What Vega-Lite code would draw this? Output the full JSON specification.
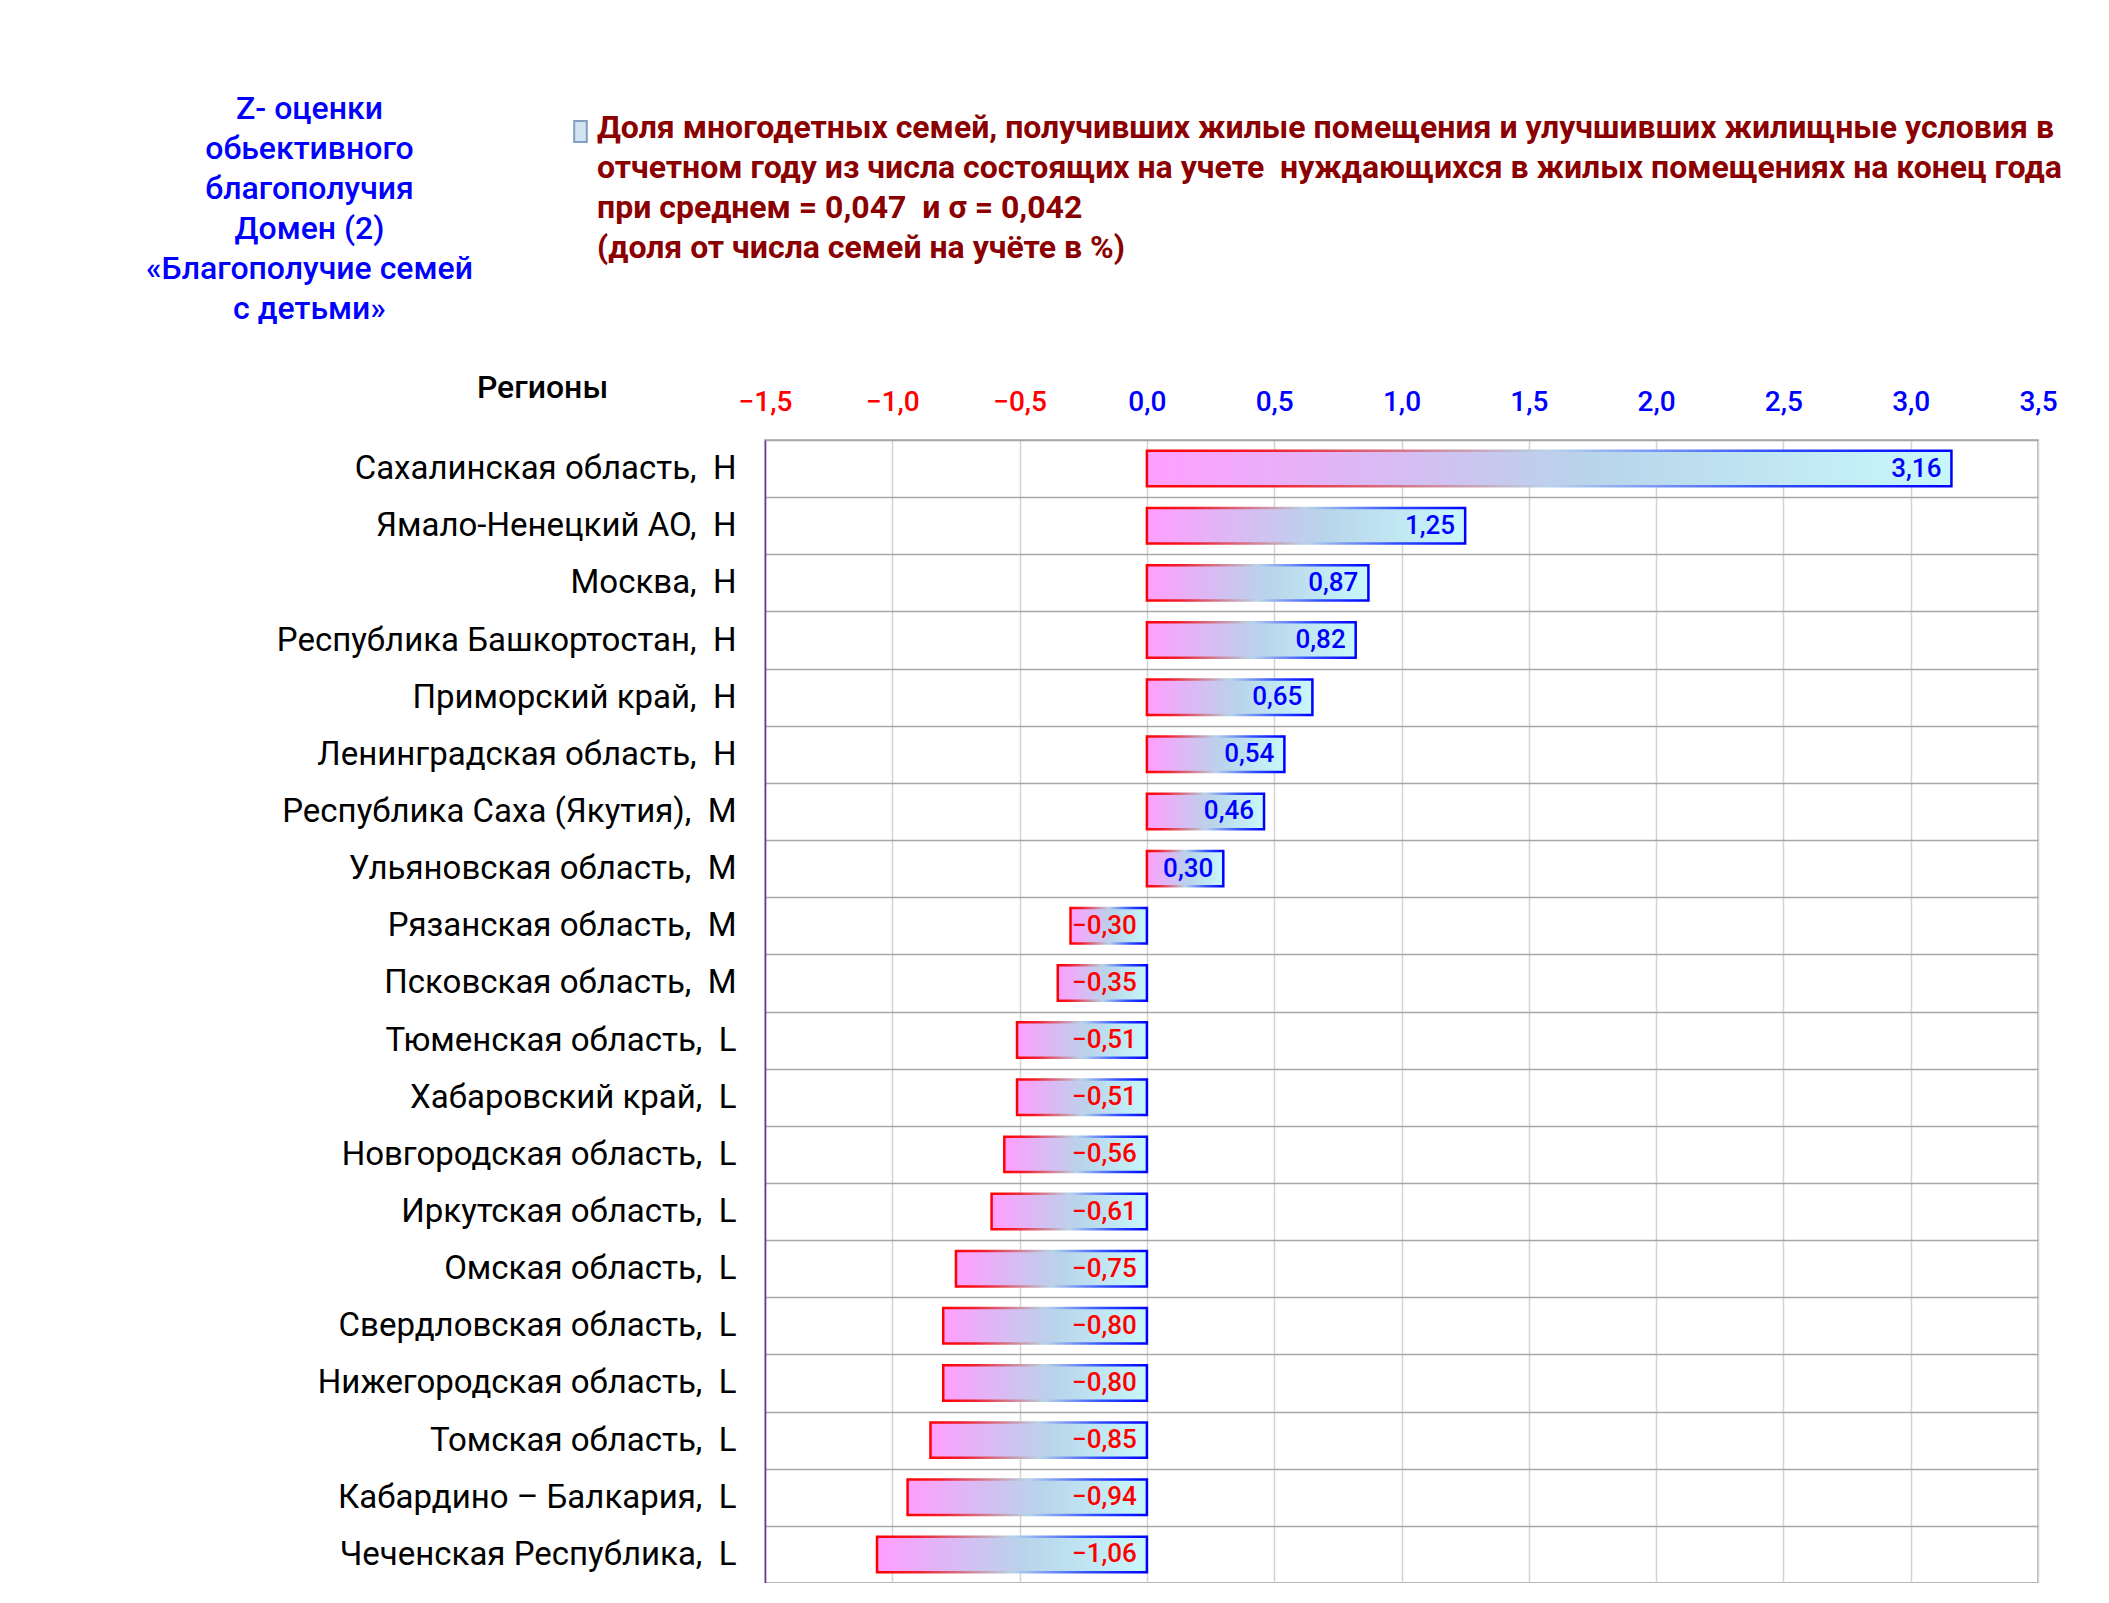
{
  "$schema": "https://vega.github.io/schema/vega-lite/v6.json",
  "autosize": "none",
  "padding": {"left": 765, "top": 440, "right": 71, "bottom": 0},
  "width": 1273,
  "height": 1143,
  "background": "white",
  "config": {
    "locale": {"number": {"decimal": ",", "thousands": " ", "grouping": [3], "currency": ["", ""]}},
    "view": {"stroke": "#a6a6a6", "strokeWidth": 1.5},
    "font": "Roboto"
  },
  "title": {
    "text": [
      "Доля многодетных семей, получивших жилые помещения и улучшивших жилищные условия в",
      "отчетном году из числа состоящих на учете \u00a0нуждающихся в жилых помещениях на конец года",
      "при среднем = 0,047 \u00a0и σ = 0,042",
      "(доля от числа семей на учёте в %)"
    ],
    "anchor": "start",
    "frame": "group",
    "orient": "top",
    "baseline": "top",
    "dx": -168,
    "offset": -173,
    "color": "#8B0000",
    "font": "Roboto",
    "fontSize": 32,
    "fontWeight": "bold",
    "lineHeight": 40
  },
  "data": {
    "values": [
      {"region": "Сахалинская область, \u00a0H", "value": 3.16},
      {"region": "Ямало-Ненецкий АО, \u00a0H", "value": 1.25},
      {"region": "Москва, \u00a0H", "value": 0.87},
      {"region": "Республика Башкортостан, \u00a0H", "value": 0.82},
      {"region": "Приморский край, \u00a0H", "value": 0.65},
      {"region": "Ленинградская область, \u00a0H", "value": 0.54},
      {"region": "Республика Саха (Якутия), \u00a0M", "value": 0.46},
      {"region": "Ульяновская область, \u00a0M", "value": 0.30},
      {"region": "Рязанская область, \u00a0M", "value": -0.30},
      {"region": "Псковская область, \u00a0M", "value": -0.35},
      {"region": "Тюменская область, \u00a0L", "value": -0.51},
      {"region": "Хабаровский край, \u00a0L", "value": -0.51},
      {"region": "Новгородская область, \u00a0L", "value": -0.56},
      {"region": "Иркутская область, \u00a0L", "value": -0.61},
      {"region": "Омская область, \u00a0L", "value": -0.75},
      {"region": "Свердловская область, \u00a0L", "value": -0.80},
      {"region": "Нижегородская область, \u00a0L", "value": -0.80},
      {"region": "Томская область, \u00a0L", "value": -0.85},
      {"region": "Кабардино – Балкария, \u00a0L", "value": -0.94},
      {"region": "Чеченская Республика, \u00a0L", "value": -1.06}
    ]
  },
  "encoding": {
    "y": {
      "field": "region",
      "type": "nominal",
      "sort": null,
      "scale": {"paddingInner": 0, "paddingOuter": 0},
      "axis": {
        "title": ["Z- оценки", "обьективного", "благополучия", "Домен (2)", "«Благополучие семей", "с детьми»"],
        "titleX": -456,
        "titleY": -347,
        "titleAngle": 0,
        "titleAlign": "center",
        "titleBaseline": "top",
        "titleColor": "blue",
        "titleFont": "Roboto",
        "titleFontSize": 32,
        "titleFontWeight": 500,
        "titleLineHeight": 40,
        "labelFont": "Roboto",
        "labelFontSize": 33,
        "labelColor": "black",
        "labelPadding": 29,
        "labelLimit": 0,
        "ticks": false,
        "tickBand": "extent",
        "domainColor": "#7030a0",
        "domainWidth": 1.5,
        "grid": true,
        "gridColor": "#a6a6a6",
        "gridWidth": 1.5
      }
    }
  },
  "layer": [
    {
      "mark": {
        "type": "bar",
        "height": {"band": 0.62},
        "strokeWidth": 2.5,
        "fill": {
          "gradient": "linear", "x1": 0, "y1": 0, "x2": 1, "y2": 0,
          "stops": [
            {"offset": 0, "color": "#ff9eff"},
            {"offset": 0.55, "color": "#b8d4ea"},
            {"offset": 1, "color": "#c8f8fb"}
          ]
        },
        "stroke": {
          "gradient": "linear", "x1": 0, "y1": 0, "x2": 1, "y2": 0,
          "stops": [
            {"offset": 0, "color": "#ff0000"},
            {"offset": 0.15, "color": "#f02030"},
            {"offset": 0.5, "color": "#b8d4ea"},
            {"offset": 0.78, "color": "#3050ff"},
            {"offset": 1, "color": "#0000ff"}
          ]
        }
      },
      "encoding": {
        "x": {
          "field": "value",
          "type": "quantitative",
          "scale": {"domain": [-1.5, 3.5], "nice": false},
          "axis": {
            "orient": "top",
            "values": [-1.5, -1, -0.5, 0, 0.5, 1, 1.5, 2, 2.5, 3, 3.5],
            "format": ".1f",
            "labelFont": "Roboto",
            "labelFontSize": 28,
            "labelFontWeight": 500,
            "labelPadding": 24,
            "labelFlush": false,
            "labelOverlap": false,
            "labelColor": {"condition": {"test": "datum.value < 0", "value": "red"}, "value": "blue"},
            "domain": false,
            "ticks": false,
            "grid": true,
            "gridColor": "#d4d4d4",
            "gridWidth": 1.5,
            "title": "Регионы",
            "titleX": -223,
            "titleY": -53,
            "titleAlign": "center",
            "titleBaseline": "middle",
            "titleFont": "Roboto",
            "titleFontSize": 32,
            "titleFontWeight": 500,
            "titleColor": "black"
          }
        }
      }
    },
    {
      "transform": [{"filter": "datum.value > 0"}],
      "mark": {"type": "text", "align": "right", "baseline": "middle", "dx": -10, "font": "Roboto", "fontSize": 26, "fontWeight": 500, "color": "blue"},
      "encoding": {
        "x": {"field": "value", "type": "quantitative"},
        "text": {"field": "value", "type": "quantitative", "format": ".2f"}
      }
    },
    {
      "transform": [{"filter": "datum.value < 0"}],
      "mark": {"type": "text", "align": "right", "baseline": "middle", "dx": -10, "font": "Roboto", "fontSize": 26, "fontWeight": 500, "color": "red"},
      "encoding": {
        "x": {"datum": 0, "type": "quantitative"},
        "text": {"field": "value", "type": "quantitative", "format": ".2f"}
      }
    },
    {
      "transform": [{"filter": "false"}],
      "mark": {"type": "point"},
      "encoding": {
        "fill": {
          "datum": "Доля",
          "type": "nominal",
          "scale": {"range": ["#c0d8f0"]},
          "legend": {
            "orient": "none",
            "legendX": -196,
            "legendY": -320,
            "title": null,
            "labelExpr": "''",
            "symbolType": "M-0.6,-1H0.6V1H-0.6Z",
            "symbolSize": 441,
            "symbolStrokeWidth": 2,
            "padding": 0,
            "encode": {
              "symbols": {
                "update": {
                  "opacity": {"value": 1},
                  "fill": {"value": {"gradient": "linear", "x1": 0, "y1": 0, "x2": 1, "y2": 0, "stops": [{"offset": 0, "color": "#ff9eff"}, {"offset": 0.5, "color": "#b8d4ea"}, {"offset": 1, "color": "#c8f8fb"}]}},
                  "stroke": {"value": {"gradient": "linear", "x1": 0, "y1": 0, "x2": 1, "y2": 0, "stops": [{"offset": 0, "color": "#ff0000"}, {"offset": 0.5, "color": "#b8d4ea"}, {"offset": 1, "color": "#0000ff"}]}}
                }
              }
            }
          }
        }
      }
    }
  ]
}
